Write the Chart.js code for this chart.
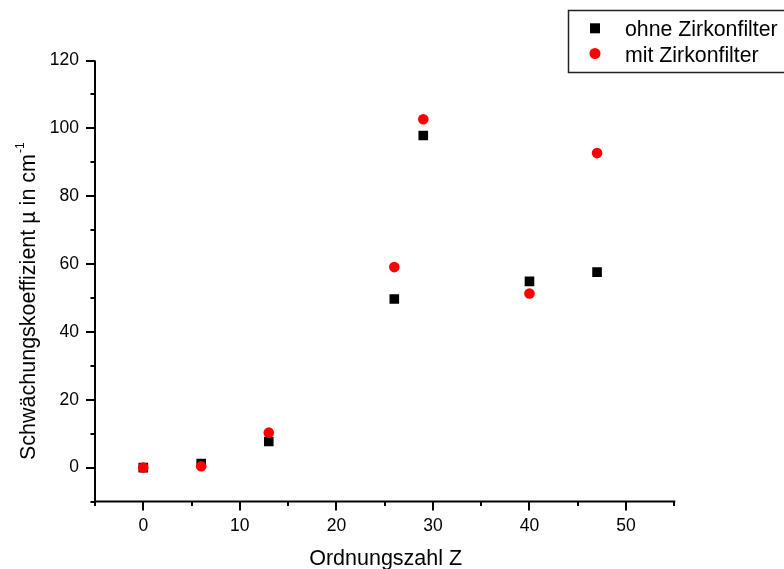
<!DOCTYPE html>
<html><head><meta charset="utf-8">
<script src="https://cdn.jsdelivr.net/npm/chart.js@4.4.0/dist/chart.umd.min.js"></script>
<style>html,body{margin:0;padding:0;background:#fff;} #wrap{width:784px;height:569px;}</style>
</head><body><div id="wrap"><canvas id="c" width="784" height="569"></canvas></div>
<script>
const ordnungszahl = [0, 6, 13, 26, 29, 40, 47];
const ohneZirkonfilter = [0, 1.2, 7.7, 49.7, 97.9, 54.9, 57.6];
const mitZirkonfilter = [0, 0.4, 10.3, 59.1, 102.7, 51.3, 92.7];
const xTickLabels = [0, 10, 20, 30, 40, 50];
const yTickLabels = [0, 20, 40, 60, 80, 100, 120];
const seriesLabels = ['ohne Zirkonfilter', 'mit Zirkonfilter'];
const xTitle = 'Ordnungszahl Z';
const yTitle = 'Schwächungskoeffizient µ in cm';
const yTitleSup = '-1';

const FONT = "'Liberation Sans', Arial, sans-serif";
const INK = '#000';

const toPts = (ys) => ordnungszahl.map((x, i) => ({x: x, y: ys[i]}));

const decorPlugin = {
  id: 'decor',
  afterDraw(chart) {
    const ctx = chart.ctx;
    const xs = chart.scales.x, ys = chart.scales.y;
    const L = chart.chartArea.left, B = chart.chartArea.bottom, T = chart.chartArea.top, R = chart.chartArea.right;
    ctx.save();
    ctx.strokeStyle = INK;
    ctx.lineWidth = 2;
    // axis lines
    ctx.beginPath();
    ctx.moveTo(L, T); ctx.lineTo(L, B + 1);
    ctx.moveTo(L - 1, B); ctx.lineTo(R + 1, B);
    ctx.stroke();
    // x ticks
    ctx.beginPath();
    for (let v = xs.min; v <= xs.max + 1e-9; v += 5) {
      const p = Math.round(xs.getPixelForValue(v));
      const len = xTickLabels.includes(v) ? 9 : 4.5;
      ctx.moveTo(p, B); ctx.lineTo(p, B + len);
    }
    // y ticks
    for (let v = ys.min; v <= ys.max + 1e-9; v += 10) {
      const p = Math.round(ys.getPixelForValue(v));
      const len = yTickLabels.includes(v) ? 9 : 4.5;
      ctx.moveTo(L, p); ctx.lineTo(L - len, p);
    }
    ctx.stroke();

    // axis titles
    ctx.fillStyle = INK;
    ctx.font = '21.5px ' + FONT;
    ctx.textAlign = 'center';
    ctx.textBaseline = 'alphabetic';
    ctx.fillText(xTitle, (L + R) / 2 + 1, 565);

    ctx.save();
    ctx.translate(34.5, 460);
    ctx.rotate(-Math.PI / 2);
    ctx.textAlign = 'left';
    ctx.font = '21.5px ' + FONT;
    ctx.fillText(yTitle, 0, 0);
    const w = ctx.measureText(yTitle).width;
    ctx.font = '12px ' + FONT;
    ctx.fillText(yTitleSup, w + 1, -11);
    ctx.restore();

    // legend
    ctx.lineWidth = 1.5;
    ctx.strokeStyle = '#222';
    ctx.strokeRect(568.5, 10.5, 230, 62);
    ctx.font = '21.3px ' + FONT;
    ctx.textAlign = 'left';
    ctx.textBaseline = 'alphabetic';
    const ds = chart.data.datasets;
    ctx.fillStyle = ds[0].backgroundColor;
    ctx.fillRect(595 - 5, 28.3 - 5, 10, 10);
    ctx.fillStyle = INK;
    ctx.fillText(ds[0].label, 625, 36);
    ctx.fillStyle = ds[1].backgroundColor;
    ctx.beginPath(); ctx.arc(595, 53.5, 5.5, 0, Math.PI * 2); ctx.fill();
    ctx.fillStyle = INK;
    ctx.fillText(ds[1].label, 625, 62);
    ctx.restore();
  }
};

new Chart(document.getElementById('c'), {
  type: 'scatter',
  data: {
    datasets: [
      {label: seriesLabels[0], data: toPts(ohneZirkonfilter), pointStyle: 'rect', pointRadius: 6.8,
       backgroundColor: '#000', borderWidth: 0, order: 2, pointHoverRadius: 6.8},
      {label: seriesLabels[1], data: toPts(mitZirkonfilter), pointStyle: 'circle', pointRadius: 5.3,
       backgroundColor: '#ff0000', borderWidth: 0, order: 1, pointHoverRadius: 5.3}
    ]
  },
  options: {
    responsive: false,
    animation: false,
    devicePixelRatio: 1,
    layout: {padding: {left: 0, top: 60.5, right: 109.7, bottom: 0}},
    plugins: {legend: {display: false}, tooltip: {enabled: false}, title: {display: false}},
    scales: {
      x: {
        type: 'linear', min: -5, max: 55,
        afterFit(s) { s.height = 67.5; },
        grid: {display: true, drawOnChartArea: false, drawTicks: true, tickLength: 9, color: 'rgba(0,0,0,0)'},
        border: {display: false},
        ticks: {stepSize: 5, autoSkip: false, maxRotation: 0, padding: 5, color: INK,
          font: {family: FONT, size: 17.5},
          callback: (v) => xTickLabels.includes(v) ? String(v) : ''}
      },
      y: {
        type: 'linear', min: -10, max: 120,
        afterFit(s) { s.width = 95; },
        grid: {display: true, drawOnChartArea: false, drawTicks: true, tickLength: 9, color: 'rgba(0,0,0,0)'},
        border: {display: false},
        ticks: {stepSize: 10, autoSkip: false, padding: 7, color: INK,
          font: {family: FONT, size: 17.5},
          callback: (v) => yTickLabels.includes(v) ? String(v) : ''}
      }
    }
  },
  plugins: [decorPlugin]
});
</script></body></html>
